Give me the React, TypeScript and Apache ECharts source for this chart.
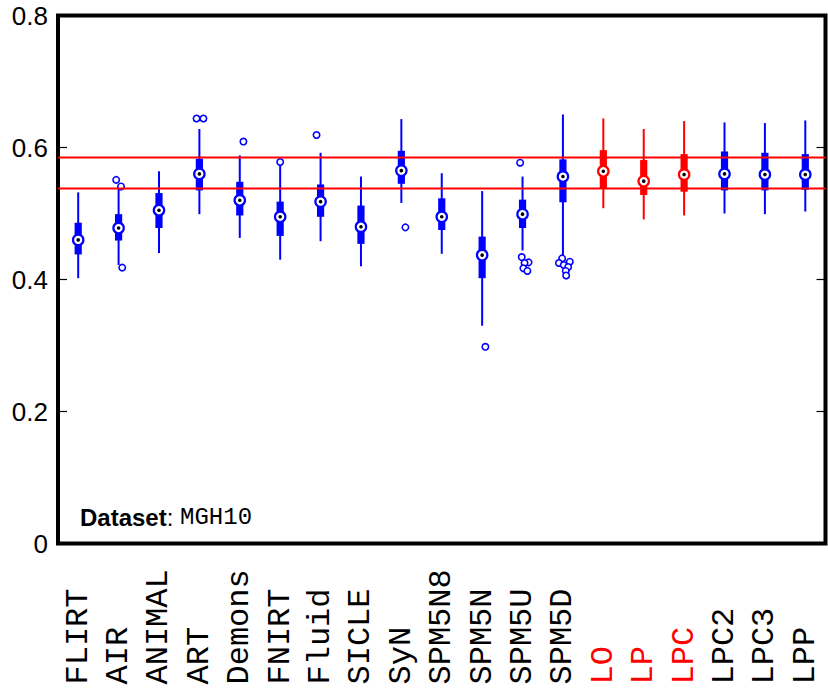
import React, { useEffect, useRef } from "react";
import * as echarts from "echarts";

const categories = ["FLIRT", "AIR", "ANIMAL", "ART", "Demons", "FNIRT", "Fluid", "SICLE", "SyN", "SPM5N8", "SPM5N", "SPM5U", "SPM5D", "LO", "LP", "LPC", "LPC2", "LPC3", "LPP"];
const highlighted = ["LO", "LP", "LPC"];

const whiskerLow = [0.402, 0.422, 0.44, 0.499, 0.463, 0.43, 0.458, 0.42, 0.516, 0.439, 0.33, 0.444, 0.436, 0.508, 0.491, 0.497, 0.5, 0.499, 0.503];
const q1 = [0.438, 0.459, 0.478, 0.535, 0.497, 0.466, 0.495, 0.454, 0.545, 0.475, 0.402, 0.478, 0.517, 0.538, 0.528, 0.533, 0.535, 0.535, 0.536];
const median = [0.46, 0.478, 0.505, 0.56, 0.52, 0.495, 0.518, 0.48, 0.565, 0.495, 0.437, 0.499, 0.556, 0.564, 0.549, 0.559, 0.56, 0.559, 0.559];
const q3 = [0.486, 0.499, 0.531, 0.583, 0.548, 0.518, 0.544, 0.512, 0.595, 0.523, 0.465, 0.521, 0.582, 0.596, 0.581, 0.59, 0.594, 0.592, 0.59];
const whiskerHigh = [0.532, 0.543, 0.564, 0.628, 0.588, 0.573, 0.592, 0.556, 0.643, 0.561, 0.534, 0.556, 0.65, 0.644, 0.628, 0.64, 0.638, 0.637, 0.641];

// outliers: [category, value, horizontal jitter in category units]
const outliers: [string, number, number][] = [
  ["AIR", 0.551, -0.06], ["AIR", 0.541, 0.06], ["AIR", 0.418, 0.09],
  ["ART", 0.644, -0.07], ["ART", 0.644, 0.1],
  ["Demons", 0.609, 0.09],
  ["FNIRT", 0.578, 0],
  ["Fluid", 0.619, -0.1],
  ["SyN", 0.479, 0.1],
  ["SPM5N", 0.298, 0.08],
  ["SPM5U", 0.577, -0.06], ["SPM5U", 0.434, -0.02], ["SPM5U", 0.426, 0.15], ["SPM5U", 0.425, 0.05], ["SPM5U", 0.417, 0.02], ["SPM5U", 0.413, 0.12],
  ["SPM5D", 0.432, -0.02], ["SPM5D", 0.427, 0.17], ["SPM5D", 0.425, -0.1], ["SPM5D", 0.422, 0.02], ["SPM5D", 0.419, 0.13], ["SPM5D", 0.413, 0.07], ["SPM5D", 0.406, 0.08],
];

const referenceLines = [0.585, 0.538];

const yTicks = [0, 0.2, 0.4, 0.6, 0.8];
const datasetName = "MGH10";

const BLUE = "#0000ff";
const RED = "#ff0000";
const colorOf = (name: string) => (highlighted.includes(name) ? RED : BLUE);

export default function App() {
  const ref = useRef<HTMLDivElement>(null);
  useEffect(() => {
    document.body.style.margin = "0";
    const chart = echarts.init(ref.current!, null, { renderer: "svg" });
    const boxData = categories.map((c, i) => [i, whiskerLow[i], q1[i], median[i], q3[i], whiskerHigh[i]]);
    const outlierData = outliers.map(([c, v, j]) => [categories.indexOf(c), v, j]);
    const refData = referenceLines.map((v) => [0, v]);
    const labelData = categories.map((c, i) => [i, 0]);
    const option: any = {
      animation: false,
      grid: {
        show: true,
        borderColor: "#000",
        borderWidth: 4,
        left: 58,
        right: 2.5,
        top: 15.5,
        bottom: 150.5,
        containLabel: false,
        outerBoundsMode: "none",
      },
      xAxis: {
        type: "category",
        data: categories,
        boundaryGap: true,
        axisLine: { show: false },
        axisTick: { show: false },
        splitLine: { show: false },
        axisLabel: { show: false },
      },
      yAxis: [
        {
          type: "value",
          min: 0,
          max: 0.8,
          interval: 0.2,
          axisLine: { show: false },
          splitLine: { show: false },
          axisTick: { show: true, inside: true, length: 9, lineStyle: { color: "#000", width: 1.2 } },
          axisLabel: {
            margin: 10,
            fontFamily: "Liberation Sans",
            fontSize: 26,
            color: "#000",
            formatter: (v: number) => {
              const t = yTicks.find((x) => Math.abs(x - v) < 1e-9);
              return t === 0 ? "0" : (t ?? v).toFixed(1);
            },
          },
        },
        {
          type: "value",
          position: "right",
          min: 0,
          max: 0.8,
          interval: 0.2,
          axisLine: { show: false },
          splitLine: { show: false },
          axisTick: { show: true, inside: true, length: 9, lineStyle: { color: "#000", width: 1.2 } },
          axisLabel: { show: false },
        },
      ],
      series: [
        {
          type: "custom",
          name: "box",
          z: 3,
          data: boxData,
          encode: { x: 0, y: [1, 2, 3, 4, 5] },
          renderItem: (params: any, api: any) => {
            const idx = api.value(0);
            const col = colorOf(categories[idx]);
            const lo = api.coord([idx, api.value(1)]);
            const b1 = api.coord([idx, api.value(2)]);
            const md = api.coord([idx, api.value(3)]);
            const b3 = api.coord([idx, api.value(4)]);
            const hi = api.coord([idx, api.value(5)]);
            return {
              type: "group",
              children: [
                { type: "line", shape: { x1: lo[0], y1: lo[1], x2: hi[0], y2: hi[1] }, style: { stroke: col, lineWidth: 2 } },
                { type: "rect", shape: { x: b1[0] - 3.6, y: b3[1], width: 7.2, height: b1[1] - b3[1] }, style: { fill: col } },
                { type: "circle", shape: { cx: md[0], cy: md[1], r: 5.2 }, style: { fill: "#fff", stroke: col, lineWidth: 2.2 } },
                { type: "circle", shape: { cx: md[0], cy: md[1], r: 1.8 }, style: { fill: "#000" } },
              ],
            };
          },
        },
        {
          type: "custom",
          name: "outliers",
          z: 4,
          data: outlierData,
          encode: { x: 0, y: 1 },
          renderItem: (params: any, api: any) => {
            const idx = api.value(0);
            const col = colorOf(categories[idx]);
            const p = api.coord([idx, api.value(1)]);
            const w = api.size([1, 0])[0];
            return {
              type: "circle",
              shape: { cx: p[0] + api.value(2) * w, cy: p[1], r: 3.2 },
              style: { fill: "#fff", stroke: col, lineWidth: 1.6 },
            };
          },
        },
        {
          type: "custom",
          name: "ref",
          z: 5,
          silent: true,
          data: refData,
          encode: { x: 0, y: 1 },
          renderItem: (params: any, api: any) => {
            const cs = params.coordSys;
            const p = api.coord([0, api.value(1)]);
            return {
              type: "line",
              shape: { x1: cs.x, y1: p[1], x2: cs.x + cs.width, y2: p[1] },
              style: { stroke: RED, lineWidth: 2 },
            };
          },
        },
        {
          type: "custom",
          name: "labels",
          z: 6,
          silent: true,
          clip: false,
          data: labelData,
          encode: { x: 0, y: 1 },
          renderItem: (params: any, api: any) => {
            const idx = api.value(0);
            const name = categories[idx];
            const p = api.coord([idx, 0]);
            return {
              type: "text",
              x: p[0],
              y: p[1] + 141,
              rotation: Math.PI / 2,
              style: {
                text: name,
                align: "left",
                verticalAlign: "middle",
                fontFamily: "Liberation Mono",
                fontSize: 32,
                fill: highlighted.includes(name) ? RED : "#000",
              },
            };
          },
        },
      ],
      graphic: [
        {
          type: "text",
          x: 80,
          y: 517,
          style: {
            text: `{b|Dataset}{n|: }{m|${datasetName}}`,
            verticalAlign: "middle",
            rich: {
              b: { fontFamily: "Liberation Sans", fontWeight: "bold", fontSize: 24, fill: "#000" },
              n: { fontFamily: "Liberation Sans", fontSize: 24, fill: "#000" },
              m: { fontFamily: "Liberation Mono", fontSize: 24, fill: "#000" },
            },
          },
        },
      ],
    };
    chart.setOption(option);
    return () => chart.dispose();
  }, []);
  return <div ref={ref} style={{ width: 828, height: 694 }} />;
}
